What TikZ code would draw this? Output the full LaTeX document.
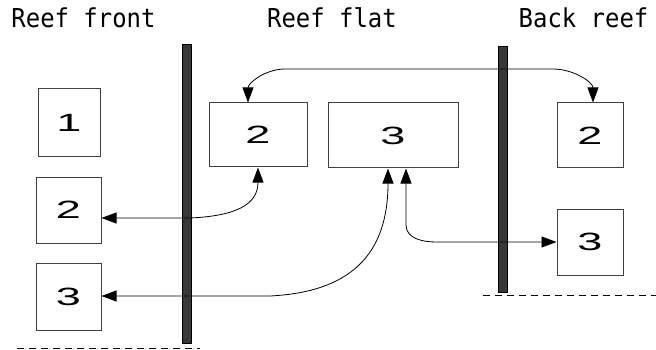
\documentclass[tikz,border=0pt]{standalone}
\usepackage{fontspec}
\usepackage{graphicx}
\usetikzlibrary{arrows.meta}
\newfontfamily\titlefont{DejaVu Sans Mono}
\newfontfamily\digitfont{Liberation Sans}
\newcommand{\ttl}[1]{\scalebox{0.92}[1]{\titlefont\fontsize{26}{28}\selectfont #1}}
\newcommand{\dg}[1]{\scalebox{1.8}[1]{\digitfont\fontsize{25}{27}\selectfont #1}}
\begin{document}
\begin{tikzpicture}[x=1pt,y=-1pt,
  box/.style={draw=black!75,line width=1pt,rectangle,inner sep=0pt,fill=white},
  ttlnode/.style={anchor=base,inner sep=0pt},
  bar/.style={draw=black,fill=black!78,line width=0.6pt},
  conn/.style={line width=0.8pt,{Triangle[length=15pt,width=11pt]}-{Triangle[length=15pt,width=11pt]}},
  shore/.style={dash pattern=on 7pt off 5pt,line width=0.8pt}]
\useasboundingbox (0,0) rectangle (656,350);
% titles
\node[ttlnode] (t1) at (83.5,28) {\ttl{Reef front}};
\node[ttlnode] (t2) at (332,28) {\ttl{Reef flat}};
\node[ttlnode] (t3) at (583.5,28) {\ttl{Back reef}};
% bars
\draw[bar] (182,44) rectangle (191,343);
\draw[bar] (498,46) rectangle (507,292);
% dashed lines
\draw[shore] (17,348) -- (200,348);
\draw[shore] (483,295) -- (656,295);
% boxes
\node[box,minimum width=62pt,minimum height=68pt] (l1) at (69,123) {\dg{1}};
\node[box,minimum width=65pt,minimum height=66pt] (l2) at (68.5,210) {\dg{2}};
\node[box,minimum width=65pt,minimum height=67pt] (l3) at (68.5,296.5) {\dg{3}};
\node[box,minimum width=98pt,minimum height=64pt] (f2) at (258,135) {\dg{2}};
\node[box,minimum width=130pt,minimum height=65pt] (f3) at (393,135.5) {\dg{3}};
\node[box,minimum width=66pt,minimum height=65pt] (b2) at (590,135.5) {\dg{2}};
\node[box,minimum width=66pt,minimum height=66pt] (b3) at (590,242) {\dg{3}};
% helper coordinates
\coordinate (a1) at (285,69);
\coordinate (a2) at (553,69);
\coordinate (c1) at (190,218);
\coordinate (d1) at (270,296);
\coordinate (e1) at (406,225);
\coordinate (e2) at (436,242);
% connectors
\draw[conn] (f2.north -| 248,0) to[out=90,in=180] (a1) -- (a2) to[out=0,in=90] (b2.north -| 593,0);
\draw[conn] (l2.east |- c1) -- (c1) .. controls (235,216) and (258,205) .. (f2.south -| 258,0);
\draw[conn] (l3.east |- d1) -- (d1) .. controls (350,292) and (388,255) .. (f3.south -| 388,0);
\draw[conn] (f3.south -| 406,0) -- (e1) to[out=-90,in=180] (e2) -- (b3.west);
\end{tikzpicture}
\end{document}
